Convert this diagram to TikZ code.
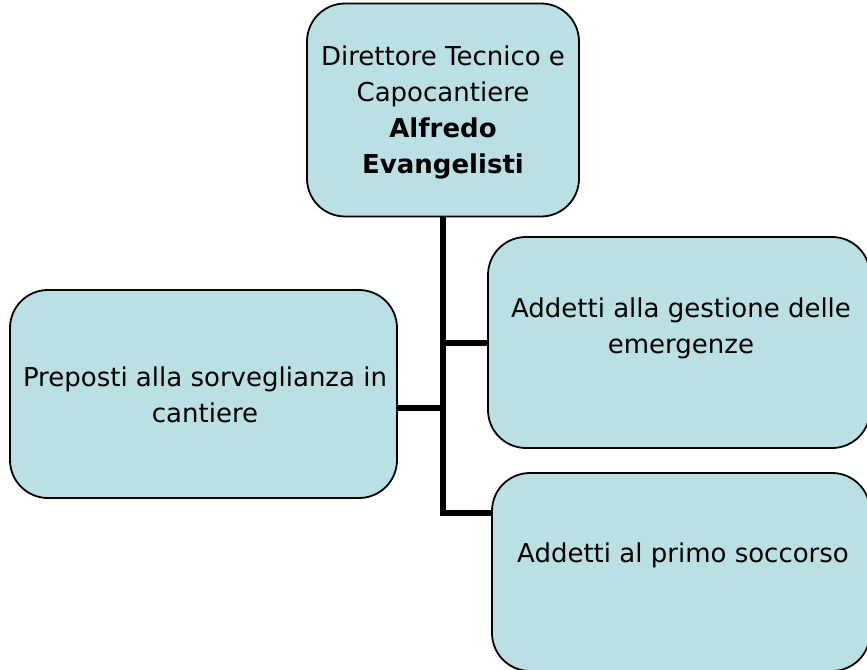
\documentclass[tikz,border=0pt]{standalone}
\usepackage{fontspec}
\setmainfont{DejaVu Sans}
\usepackage{tikz}

\definecolor{boxfill}{HTML}{BBE0E3}

\begin{document}
\begin{tikzpicture}[x=1pt,y=-1pt,
    orgbox/.style={draw, fill=boxfill, line width=1.8pt, rounded corners=38pt, minimum width=#1},
    label/.style={align=center, font=\fontsize{26}{36}\selectfont},
    link/.style={line width=5.5pt}]
    \useasboundingbox (0,0) rectangle (867,669);
    \node[orgbox=272pt, minimum height=213pt] (dir) at (443,110) {};
    \node[orgbox=382pt, minimum height=211pt] (emer) at (679,342.5) {};
    \node[orgbox=387pt, minimum height=208pt] (prep) at (203.5,394) {};
    \node[orgbox=378pt, minimum height=198pt] (soc) at (681,572) {};
    \node[label] (dirtxt) at (443,112) {Direttore Tecnico e\\Capocantiere\\\textbf{Alfredo}\\\textbf{Evangelisti}};
    \node[label] (emertxt) at (681,328) {Addetti alla gestione delle\\emergenze};
    \node[label] (preptxt) at (205,395) {Preposti alla sorveglianza in\\cantiere};
    \node[label] (soctxt) at (683,555) {Addetti al primo soccorso};
    \coordinate (jemer) at (443,343);
    \coordinate (jprep) at (443,408);
    \coordinate (jsoc) at (443,513);
    \draw[link] (dir.south) -- (jsoc) -- (jsoc -| soc.west);
    \draw[link] (jemer) -- (jemer -| emer.west);
    \draw[link] (jprep) -- (jprep -| prep.east);
\end{tikzpicture}
\end{document}
